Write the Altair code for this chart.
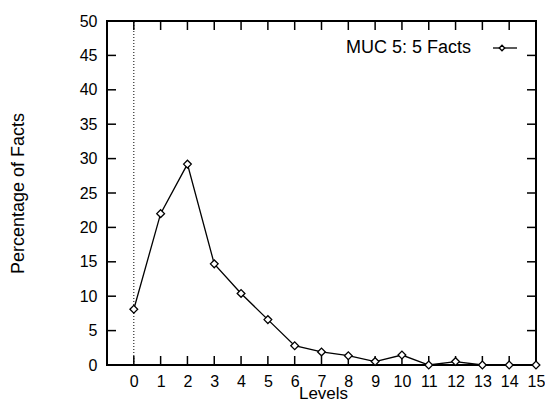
import altair as alt
import pandas as pd

levels = list(range(16))
pct = [8.1, 22.0, 29.2, 14.7, 10.4, 6.6, 2.8, 1.9, 1.35, 0.5, 1.45, 0.0, 0.5, 0.0, 0.0, 0.0]
x_ticks = list(range(0, 16))
y_ticks = list(range(0, 51, 5))
legend_label = "MUC 5: 5 Facts"
x_title = "Levels"

W, H = 429, 344
FONT = "Liberation Sans"

df = pd.DataFrame({"level": levels, "pct": pct})
xt = pd.DataFrame({"t": x_ticks})
yt = pd.DataFrame({"t": y_ticks[1:-1]})

xs = alt.Scale(domain=[-1, 15], nice=False, zero=False)
ys = alt.Scale(domain=[0, 50], nice=False)

xaxis = alt.Axis(values=x_ticks, ticks=False, domain=False, grid=False, labelPadding=8,
                 title=None, labelFontSize=16,
                 labelFont=FONT, labelColor="black",
                 labelFlush=False, labelOverlap=False)
yaxis = alt.Axis(values=y_ticks, ticks=False, domain=False, grid=False, labelPadding=10,
                 title="Percentage of Facts", titlePadding=52, labelFontSize=16, titleFontSize=18,
                 labelFont=FONT, titleFont=FONT, titleFontWeight="normal", labelColor="black",
                 titleColor="black", labelFlush=False, labelOverlap=False)


def X(field):
    return alt.X(field, scale=xs, axis=xaxis)


def Y(field):
    return alt.Y(field, scale=ys, axis=yaxis)


base = alt.Chart(df)

line = base.mark_line(color="black", strokeWidth=1.3).encode(x=X("level:Q"), y=Y("pct:Q"))
pts = base.mark_point(shape="diamond", size=60, filled=True, fill="white", stroke="black",
                      strokeWidth=1.3, opacity=1).encode(x=X("level:Q"), y=Y("pct:Q"))

zero_line = alt.Chart(pd.DataFrame({"x": [0], "y0": [0], "y1": [50]})).mark_rule(
    color="black", strokeWidth=1, strokeDash=[1, 2]).encode(
    x=X("x:Q"), y=Y("y0:Q"), y2="y1:Q")

bottom_ticks = alt.Chart(xt).mark_rule(color="black", strokeWidth=1.5).encode(
    x=X("t:Q"), y=alt.value(H), y2=alt.value(H - 9))
top_ticks = alt.Chart(xt).mark_rule(color="black", strokeWidth=1.5).encode(
    x=X("t:Q"), y=alt.value(0), y2=alt.value(9))
left_ticks = alt.Chart(yt).mark_rule(color="black", strokeWidth=1.5).encode(
    y=Y("t:Q"), x=alt.value(0), x2=alt.value(9))
right_ticks = alt.Chart(yt).mark_rule(color="black", strokeWidth=1.5).encode(
    y=Y("t:Q"), x=alt.value(W), x2=alt.value(W - 9))

title_df = pd.DataFrame({"label": [x_title]})
x_title_mark = alt.Chart(title_df).mark_text(align="center", baseline="alphabetic", fontSize=17,
                                             font=FONT, color="black").encode(
    text="label:N", x=alt.value(W / 2 + 2), y=alt.value(H + 34))

leg_df = pd.DataFrame({"label": [legend_label]})
leg_text = alt.Chart(leg_df).mark_text(align="right", baseline="middle", fontSize=18,
                                       font=FONT, color="black").encode(
    text="label:N", x=alt.value(W - 65), y=alt.value(27))
leg_line = alt.Chart(leg_df).mark_rule(color="black", strokeWidth=1.3).encode(
    x=alt.value(W - 43), x2=alt.value(W - 19), y=alt.value(27))
leg_pt = alt.Chart(leg_df).mark_point(shape="diamond", size=30, filled=True, fill="white",
                                      stroke="black", strokeWidth=1.3, opacity=1).encode(
    x=alt.value(W - 34), y=alt.value(27))

chart = alt.layer(line, zero_line, bottom_ticks, top_ticks, left_ticks, right_ticks,
                  pts, leg_line, leg_pt, leg_text, x_title_mark).properties(
    width=W, height=H,
    autosize=alt.AutoSizeParams(type="none"),
    padding={"left": 99, "top": 13, "right": 9, "bottom": 35},
    background="white",
).configure_view(stroke="black", strokeWidth=2)

chart.save("out.html", embed_options={"renderer": "svg", "actions": False})
